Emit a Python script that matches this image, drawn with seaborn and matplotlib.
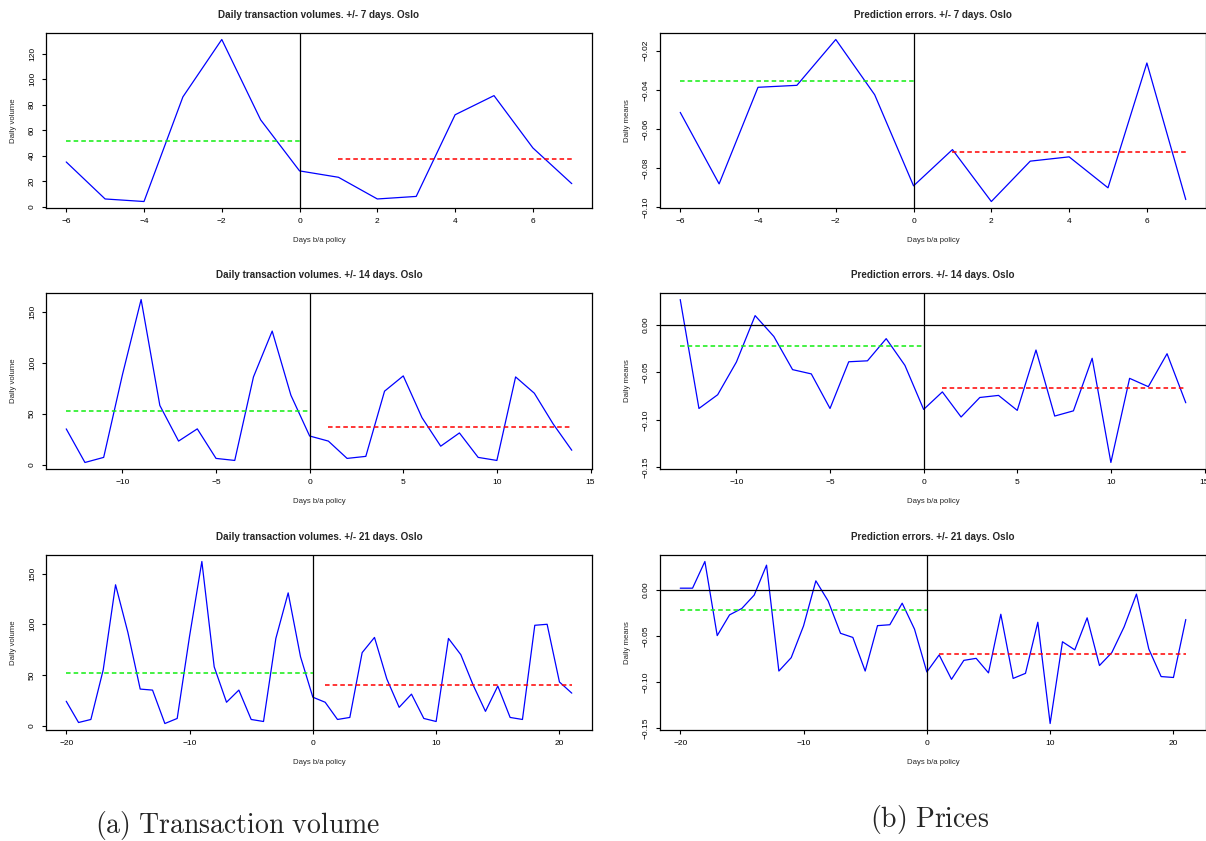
import numpy as np
import pandas as pd
import matplotlib
matplotlib.use("Agg")
import matplotlib.pyplot as plt
import seaborn as sns
from matplotlib.ticker import MultipleLocator

# ===============================
# data
# ===============================
days = list(range(-20, 22))
volume = [24, 3, 6, 55, 139, 92, 36, 35, 2, 7, 88, 162, 58, 23, 35, 6, 4, 86, 131, 68,
          28, 23, 6, 8, 72, 87, 46, 18, 31, 7, 4, 86, 70, 40, 14, 39, 8, 6, 99, 100, 43, 32]
pred_err = [0.002, 0.002, 0.031, -0.0495, -0.027, -0.020, -0.0055, 0.027, -0.088, -0.0735,
            -0.039, 0.010, -0.012, -0.047, -0.0515, -0.088, -0.0387, -0.0377, -0.0143, -0.0425,
            -0.089, -0.0705, -0.097, -0.0764, -0.0742, -0.090, -0.0263, -0.096, -0.0905, -0.035,
            -0.145, -0.0562, -0.065, -0.0302, -0.082, -0.068, -0.040, -0.0044, -0.064, -0.094,
            -0.095, -0.032]
windows = [7, 14, 21]
vol_pre_mean = [51.1, 52.4, 51.8]
vol_post_mean = [37.3, 36.6, 40.0]
err_pre_mean = [-0.0353, -0.0222, -0.0220]
err_post_mean = [-0.0716, -0.0662, -0.0691]

df = pd.DataFrame({"day": days, "volume": volume, "err": pred_err})

# ===============================
# style
# ===============================
sns.set_style("ticks")
plt.rcParams["font.family"] = ["Liberation Sans", "DejaVu Sans"]
plt.rcParams["mathtext.fontset"] = "cm"

W, H = 1206, 841
fig = plt.figure(figsize=(W / 100, H / 100), dpi=100)

rows = [(33, 208), (293, 469), (555, 730)]
cols = [46, 660]
box_w = 546


def r_limits(vals):
    lo, hi = float(np.min(vals)), float(np.max(vals))
    pad = 0.04 * (hi - lo)
    return lo - pad, hi + pad


def draw_panel(ax, sub, col, pre, post, title, ylabel, ystep, xstep, box_h):
    sns.lineplot(data=sub, x="day", y=col, ax=ax, color="#0000ff", lw=0.9)
    ax.set_xlim(r_limits(sub["day"]))
    ax.set_ylim(r_limits(sub[col]))
    ax.axvline(0, color="black", lw=0.9)
    if col == "err":
        ax.axhline(0, color="black", lw=0.9)
    pre_days = sub.loc[sub["day"] <= 0, "day"]
    post_days = sub.loc[sub["day"] > 0, "day"]
    ax.hlines(pre, pre_days.min(), pre_days.max(), colors="#11ee11",
              linestyles=(0, (3, 2)), lw=1.1)
    ax.hlines(post, post_days.min(), post_days.max(), colors="#ff0000",
              linestyles=(0, (3, 2)), lw=1.1)

    ax.xaxis.set_major_locator(MultipleLocator(xstep))
    ax.yaxis.set_major_locator(MultipleLocator(ystep))
    ax.tick_params(direction="out", length=3, width=0.8, pad=4.2,
                   labelsize=6, colors="black")
    ax.tick_params(axis="y", labelrotation=90)
    plt.setp(ax.get_yticklabels(), va="center")

    for sp in ax.spines.values():
        sp.set_color("black")
        sp.set_linewidth(0.9)

    ax.set_title(title, fontsize=7.1, fontweight="bold", pad=11)
    ax.set_xlabel("Days b/a policy", fontsize=5.6)
    ax.set_ylabel(ylabel, fontsize=5.6)
    ax.xaxis.set_label_coords(0.5, -29 / box_h)
    ax.yaxis.set_label_coords(-29 / box_w, 0.5)


for i, w in enumerate(windows):
    sub = df[(df["day"] >= -(w - 1)) & (df["day"] <= w)]
    y0, y1 = rows[i]
    box_h = y1 - y0
    xstep = {7: 2, 14: 5, 21: 10}[w]

    ax_v = fig.add_axes([cols[0] / W, 1 - y1 / H, box_w / W, box_h / H])
    draw_panel(ax_v, sub, "volume", vol_pre_mean[i], vol_post_mean[i],
               f"Daily transaction volumes. +/- {w} days. Oslo", "Daily volume",
               20 if w == 7 else 50, xstep, box_h)

    ax_e = fig.add_axes([cols[1] / W, 1 - y1 / H, box_w / W, box_h / H])
    draw_panel(ax_e, sub, "err", err_pre_mean[i], err_post_mean[i],
               f"Prediction errors. +/- {w} days. Oslo", "Daily means",
               0.02 if w == 7 else 0.05, xstep, box_h)

# ===============================
# sub-captions
# ===============================
fig.text(238 / W, 1 - 826 / H, r"$\mathrm{(a)\ Transaction\ volume}$",
         ha="center", va="center", fontsize=20)
fig.text(930 / W, 1 - 819 / H, r"$\mathrm{(b)\ Prices}$",
         ha="center", va="center", fontsize=20)

fig.savefig("out.png", dpi=100)
plt.close(fig)
